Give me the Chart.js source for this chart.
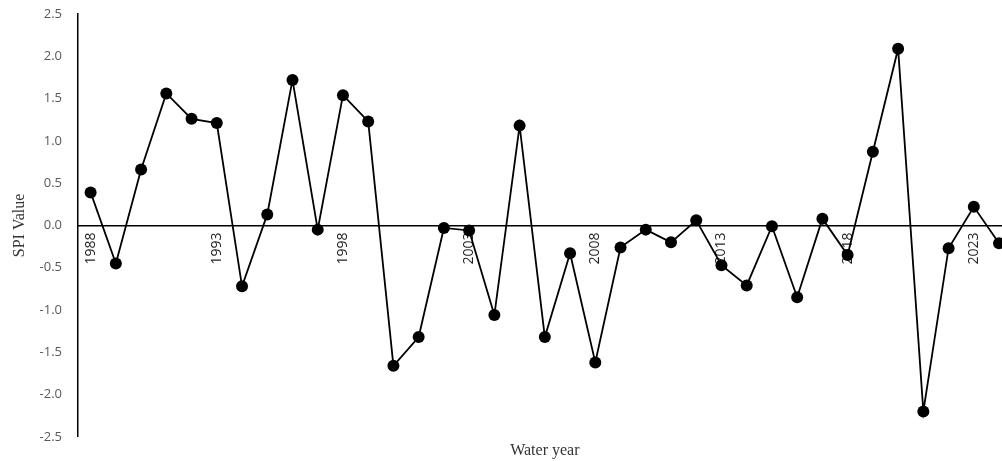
<!DOCTYPE html>
<html>
<head>
<meta charset="utf-8">
<script src="https://cdn.jsdelivr.net/npm/chart.js@4/dist/chart.umd.min.js"></script>
<style>
  html, body { margin: 0; padding: 0; overflow: hidden; background: #fff; }
</style>
</head>
<body>
<canvas id="spiChart" width="1023" height="461"></canvas>
<script>
// water years on the x axis
const years = [
  1988, 1989, 1990, 1991, 1992, 1993, 1994, 1995, 1996, 1997,
  1998, 1999, 2000, 2001, 2002, 2003, 2004, 2005, 2006, 2007,
  2008, 2009, 2010, 2011, 2012, 2013, 2014, 2015, 2016, 2017,
  2018, 2019, 2020, 2021, 2022, 2023, 2024
];

// SPI values
const spiValues = [
  0.39, -0.45, 0.66, 1.56, 1.26, 1.21, -0.72, 0.13, 1.72, -0.05,
  1.54, 1.23, -1.66, -1.32, -0.03, -0.06, -1.06, 1.18, -1.32, -0.33,
  -1.62, -0.26, -0.05, -0.20, 0.06, -0.47, -0.71, -0.01, -0.85, 0.08,
  -0.35, 0.87, 2.09, -2.20, -0.27, 0.22, -0.21
];

// only every fifth year gets a label
const labelYears = [1988, 1993, 1998, 2003, 2008, 2013, 2018, 2023];

const ctx = document.getElementById('spiChart').getContext('2d');

new Chart(ctx, {
  type: 'line',
  data: {
    labels: years.map(String),
    datasets: [{
      label: 'SPI',
      data: spiValues,
      borderColor: '#000',
      backgroundColor: '#000',
      borderWidth: 1.8,
      pointRadius: 6,
      pointHoverRadius: 6,
      pointBackgroundColor: '#000',
      pointBorderWidth: 0,
      tension: 0,
      fill: false,
      clip: false,
    }],
  },
  options: {
    responsive: false,
    animation: false,
    layout: {
      padding: { top: 14, right: 0, bottom: 0, left: 0 },
    },
    plugins: {
      legend: { display: false },
      tooltip: { enabled: false },
    },
    scales: {
      x: {
        type: 'category',
        position: { y: 0 },
        offset: true,
        grid: { display: false, drawTicks: false },
        border: { display: true, color: '#000', width: 1.5 },
        ticks: {
          autoSkip: false,
          maxRotation: 90,
          minRotation: 90,
          padding: 7,
          color: '#222',
          font: { family: 'Open Sans', size: 14 },
          callback: function (val, idx) {
            const yr = years[idx];
            return labelYears.includes(yr) ? String(yr) : '';
          },
        },
      },
      xTitle: {
        type: 'category',
        position: 'bottom',
        offset: true,
        grid: { display: false, drawTicks: false },
        border: { display: false },
        ticks: { display: false },
        title: {
          display: true,
          text: 'Water year',
          color: '#333',
          font: { family: 'Liberation Serif', size: 16 },
          padding: { top: 4, bottom: 1 },
        },
      },
      y: {
        min: -2.5,
        max: 2.5,
        // tick marks are hidden, their length only spaces the labels
        grid: { display: false, drawTicks: true, tickLength: 14 },
        border: { display: true, color: '#000', width: 1.5 },
        ticks: {
          stepSize: 0.5,
          padding: 2,
          color: '#595959',
          font: { family: 'Open Sans', size: 13 },
          callback: (v) => Number(v).toFixed(1),
        },
        title: {
          display: true,
          text: 'SPI Value',
          color: '#333',
          font: { family: 'Liberation Serif', size: 16 },
          padding: { top: 10, bottom: 0 },
        },
        afterFit: (scale) => { scale.width = 78; },
      },
    },
  },
});
</script>
</body>
</html>
